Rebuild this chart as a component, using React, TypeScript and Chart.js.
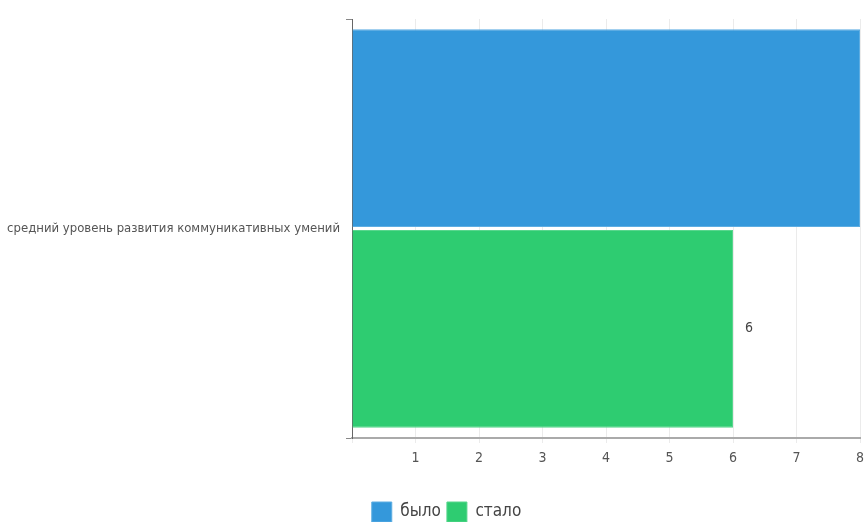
import React, { useEffect, useRef } from "react";
import { Chart, registerables } from "chart.js";

Chart.register(...registerables);

const categories = ["средний уровень развития коммуникативных умений"];
const seriesNames = ["было", "стало"];
const wasValues = [8];
const becameValues = [6];
const seriesColors = ["#3498db", "#2ecc71"];
const xTicks = [0, 1, 2, 3, 4, 5, 6, 7, 8];

const FONT = "'Liberation Sans Narrow', 'DejaVu Sans Condensed', 'Roboto', sans-serif";

const valueLabels = {
  id: "valueLabels",
  afterDatasetsDraw(chart: any) {
    const ctx = chart.ctx;
    const area = chart.chartArea;
    ctx.save();
    ctx.font = `14px ${FONT}`;
    ctx.fillStyle = "#444";
    ctx.textBaseline = "middle";
    ctx.textAlign = "left";
    chart.data.datasets.forEach((ds: any, i: number) => {
      const meta = chart.getDatasetMeta(i);
      meta.data.forEach((bar: any, j: number) => {
        const x = bar.x + 12;
        if (x + 8 > area.right) return;
        ctx.fillText(String(ds.data[j]), x, bar.y);
      });
    });
    ctx.restore();
  },
};

const legendShift = {
  id: "legendShift",
  afterLayout(chart: any) {
    const lg = chart.legend;
    if (!lg) return;
    lg.left += 14;
    lg.right += 14;
    lg.top += 10;
    lg.bottom += 10;
  },
};

export default function App() {
  const ref = useRef<HTMLCanvasElement | null>(null);
  useEffect(() => {
    document.body.style.margin = "0";
    if (!ref.current) return;
    const chart = new Chart(ref.current, {
      type: "bar",
      data: {
        labels: categories,
        datasets: [
          { label: seriesNames[0], data: wasValues, backgroundColor: seriesColors[0], borderColor: "#5dade2", borderWidth: 1 },
          { label: seriesNames[1], data: becameValues, backgroundColor: seriesColors[1], borderColor: "#58d68d", borderWidth: 1 },
        ],
      },
      plugins: [valueLabels, legendShift],
      options: {
        indexAxis: "y",
        animation: false,
        responsive: false,
        layout: { padding: { top: 19, right: 0, left: 0, bottom: 0 } },
        datasets: { bar: { categoryPercentage: 0.958, barPercentage: 0.985 } },
        scales: {
          x: {
            min: xTicks[0],
            max: xTicks[xTicks.length - 1],
            afterBuildTicks: (scale: any) => {
              scale.ticks = xTicks.map((v) => ({ value: v }));
            },
            afterFit: (scale: any) => {
              scale.height = 48;
              scale.paddingLeft = 0;
              scale.paddingRight = 5;
            },
            ticks: {
              font: { family: FONT, size: 14 },
              color: "#555",
              padding: 7,
              callback: (v: any) => (v === 0 ? "" : String(v)),
            },
            grid: { color: "#ebebeb", tickLength: 5, lineWidth: 1 },
            border: { color: "#aaaaaa", width: 2 },
          },
          y: {
            afterFit: (scale: any) => {
              scale.width = 352;
            },
            ticks: { font: { family: FONT, size: 13 }, color: "#555", padding: 6 },
            grid: { drawOnChartArea: false, tickLength: 6, color: "#888" },
            border: { color: "#666", width: 1 },
          },
        },
        plugins: {
          legend: {
            position: "bottom",
            labels: {
              font: { family: FONT, size: 17 },
              color: "#444",
              boxWidth: 20,
              boxHeight: 20,
              padding: 6,
            },
          },
          tooltip: { enabled: false },
        },
      } as any,
    });
    return () => chart.destroy();
  }, []);
  return <canvas ref={ref} width={865} height={522} style={{ display: "block" }} />;
}
